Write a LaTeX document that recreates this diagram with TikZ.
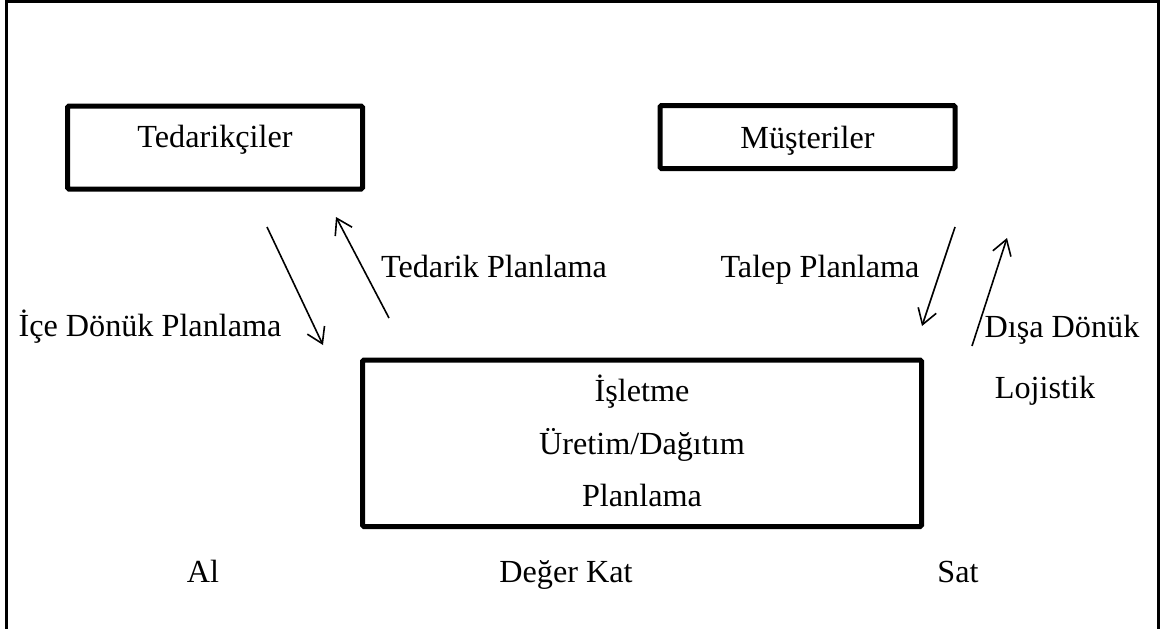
\documentclass[tikz,border=0pt]{standalone}
\usepackage{fontspec}
\setmainfont{Liberation Serif}
\usetikzlibrary{arrows.meta}

\begin{document}
\begin{tikzpicture}[x=1pt,y=-1pt,
  boxline/.style={draw, line width=5pt, rounded corners=1.5pt, inner sep=0pt},
  lbl/.style={anchor=base, inner sep=0pt, font=\fontsize{32.2}{38}\selectfont},
  flow/.style={line width=1.6pt, -{Straight Barb[length=15pt,width=19pt,line width=1.6pt]}}
]
\useasboundingbox (0,0) rectangle (1160,629);
\clip (0,0) rectangle (1160,629);

% outer frame (open at the bottom edge of the page)
\draw[line width=3pt] (6,650) -- (6,1.5) -- (1158.5,1.5) -- (1158.5,650);

% boxes
\node[boxline, minimum width=295pt, minimum height=83pt] (sup) at (215,147.5) {};
\node[boxline, minimum width=295pt, minimum height=63pt] (cus) at (807.5,137) {};
\node[boxline, minimum width=559pt, minimum height=166.5pt] (firm) at (642,443.25) {};

% box texts
\node[lbl] (supt) at (215,147) {Tedarikçiler};
\node[lbl] (cust) at (807.5,148) {Müşteriler};
\node[lbl] (f1) at (642,401) {İşletme};
\node[lbl] (f2) at (642,454) {Üretim/Dağıtım};
\node[lbl] (f3) at (642,506) {Planlama};

% flow labels
\node[lbl] (inb) at (150,336) {İçe Dönük Planlama};
\node[lbl] (supp) at (494,277) {Tedarik Planlama};
\node[lbl] (dem) at (820,277) {Talep Planlama};
\node[lbl] (outb1) at (1062,337) {Dışa Dönük};
\node[lbl] (outb2) at (1045,398) {Lojistik};

% value chain labels
\node[lbl] (buy) at (203,582) {Al};
\node[lbl] (add) at (566,582) {Değer Kat};
\node[lbl] (sell) at (958,582) {Sat};

% arrow end points
\coordinate (a1s) at (267,227);  \coordinate (a1e) at (323,345);
\coordinate (a2s) at (389,318);  \coordinate (a2e) at (336,217);
\coordinate (a3s) at (955,227);  \coordinate (a3e) at (922,326);
\coordinate (a4s) at (972,346);  \coordinate (a4e) at (1007,238);

\draw[flow] (a1s) -- (a1e);
\draw[flow] (a2s) -- (a2e);
\draw[flow] (a3s) -- (a3e);
\draw[flow] (a4s) -- (a4e);
\end{tikzpicture}
\end{document}
